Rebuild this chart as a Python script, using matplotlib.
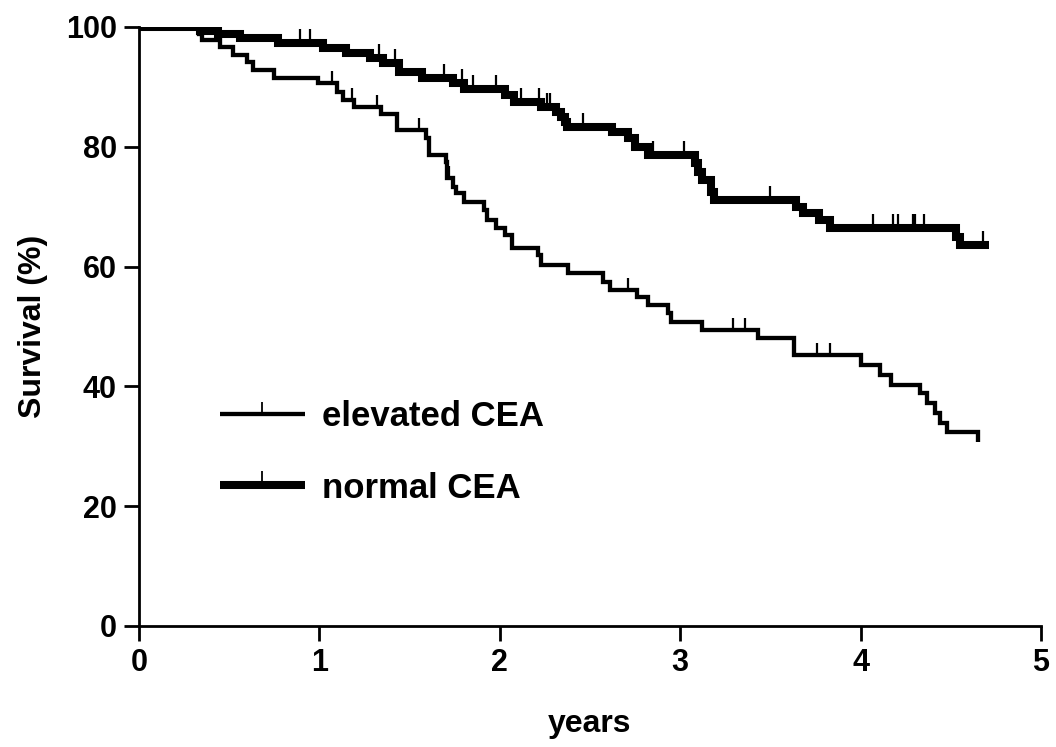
import numpy as np
import matplotlib.pyplot as plt
from matplotlib.lines import Line2D

# Kaplan-Meier steps (years, survival %)
elev_t = [0, 0.33, 0.35, 0.45, 0.52, 0.60, 0.63, 0.75, 0.99, 1.10, 1.13, 1.19, 1.34, 1.43,
          1.59, 1.61, 1.70, 1.71, 1.74, 1.76, 1.80, 1.91, 1.93, 1.98, 2.03, 2.07, 2.21,
          2.23, 2.38, 2.57, 2.61, 2.76, 2.82, 2.93, 2.95, 3.12, 3.43, 3.63, 4.00, 4.11,
          4.17, 4.33, 4.37, 4.41, 4.44, 4.48, 4.65]
elev_s = [100, 98.9, 97.8, 96.7, 95.3, 94.2, 92.8, 91.5, 90.6, 89.1, 87.8, 86.6, 85.5, 82.8,
          81.5, 78.6, 77.5, 74.8, 73.3, 72.3, 70.8, 69.4, 67.8, 66.4, 65.2, 63.1, 61.9,
          60.3, 58.9, 57.4, 56.1, 54.9, 53.6, 52.3, 50.8, 49.4, 48.0, 45.2, 43.6, 41.9,
          40.3, 38.9, 37.2, 35.6, 33.9, 32.4, 30.7]
elev_cens = [1.07, 1.18, 1.32, 1.55, 1.72, 2.71, 3.29, 3.36, 3.76, 3.83]

norm_t = [0, 0.34, 0.44, 0.56, 0.77, 1.02, 1.15, 1.28, 1.35, 1.44, 1.57, 1.74, 1.80, 2.03,
          2.08, 2.23, 2.31, 2.34, 2.36, 2.37, 2.62, 2.71, 2.75, 2.82, 3.08, 3.10, 3.12,
          3.17, 3.19, 3.64, 3.68, 3.77, 3.83, 4.53, 4.55, 4.71]
norm_s = [100, 99.4, 98.9, 98.2, 97.3, 96.5, 95.7, 94.9, 94.0, 92.4, 91.5, 90.6, 89.6, 88.6,
          87.5, 86.6, 85.8, 85.0, 84.1, 83.3, 82.5, 81.5, 80.0, 78.6, 77.3, 75.8, 74.5,
          72.5, 71.1, 70.0, 69.0, 67.8, 66.4, 65.0, 63.6, 63.6]
norm_cens = [0.89, 0.95, 1.33, 1.42, 1.69, 1.79, 1.85, 1.98, 2.12, 2.22, 2.26, 2.28, 2.46,
             2.85, 3.02, 3.50, 4.07, 4.18, 4.21, 4.29, 4.30, 4.35, 4.68]


def surv_at(ts, ss, x):
    i = np.searchsorted(ts, x, side='right') - 1
    return np.array(ss)[i]


plt.rcParams['font.family'] = ['Liberation Sans', 'DejaVu Sans']
plt.rcParams['font.weight'] = 'bold'

fig = plt.figure(figsize=(10.56, 7.47), dpi=100)
ax = fig.add_axes([0.1316, 0.162, 0.8542, 0.8019])

tick = [(0, 0), (0, 1)]  # upward censor tick
lw_e, lw_n = 3.1, 5.8

ax.step(elev_t, elev_s, where='post', color='black', linewidth=lw_e,
        solid_joinstyle='miter', solid_capstyle='butt')
ax.plot(elev_cens, surv_at(elev_t, elev_s, elev_cens), linestyle='none',
        marker=tick, markersize=17, markeredgewidth=1.6, color='black')
ax.step(norm_t, norm_s, where='post', color='black', linewidth=lw_n,
        solid_joinstyle='miter', solid_capstyle='butt')
ax.plot(norm_cens, surv_at(norm_t, norm_s, norm_cens), linestyle='none',
        marker=tick, markersize=20, markeredgewidth=1.6, color='black')

handles = [
    Line2D([], [], color='black', linewidth=lw_e, marker=tick, markersize=17,
           markeredgewidth=1.3, solid_capstyle='butt'),
    Line2D([], [], color='black', linewidth=lw_n, marker=tick, markersize=20,
           markeredgewidth=1.3, solid_capstyle='butt'),
]
ax.legend(handles, ['elevated CEA', 'normal CEA'], loc='upper left',
          bbox_to_anchor=(0.055, 0.43), frameon=False, fontsize=25,
          handlelength=2.45, handletextpad=0.5, labelspacing=1.12)

ax.set_xlim(0, 5)
ax.set_ylim(0, 100)
ax.set_xticks([0, 1, 2, 3, 4, 5])
ax.set_yticks([0, 20, 40, 60, 80, 100])
for s in ['top', 'right']:
    ax.spines[s].set_visible(False)
for s in ['left', 'bottom']:
    ax.spines[s].set_linewidth(2.0)
ax.tick_params(width=2.0, length=11, labelsize=22, pad=5)
ax.set_xlabel('years', fontsize=23, fontweight='bold', labelpad=22)
ax.set_ylabel('Survival (%)', fontsize=23, fontweight='bold', labelpad=13)

fig.savefig('out.png', dpi=100)
